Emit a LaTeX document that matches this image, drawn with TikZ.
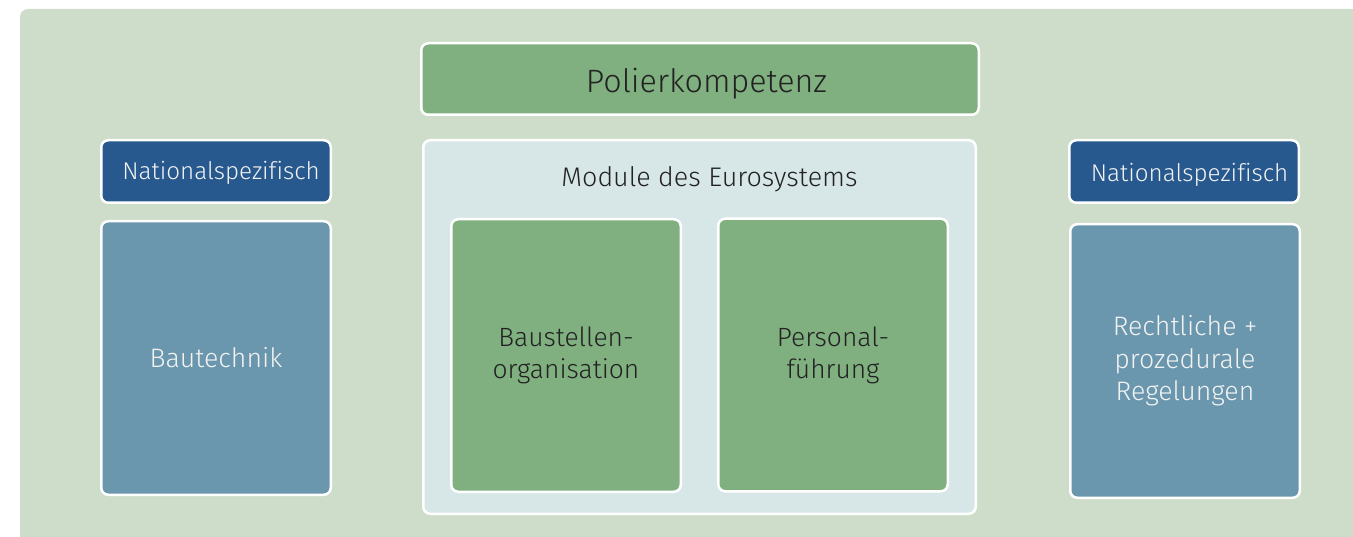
\documentclass[tikz,border=0pt]{standalone}
\usepackage{fontspec}
\setmainfont{Fira Sans}[UprightFont=* Light, Ligatures=NoCommon]
\definecolor{bgc}{HTML}{CDDDCA}
\definecolor{greenc}{HTML}{80AF80}
\definecolor{darkbluec}{HTML}{27598F}
\definecolor{bluec}{HTML}{6A97AD}
\definecolor{modc}{HTML}{D7E7E7}
\definecolor{darktext}{HTML}{222222}
\definecolor{lighttext}{HTML}{F2F2F2}
\begin{document}
\begin{tikzpicture}[x=1pt,y=-1pt,
  box/.style={draw=white, line width=2.5pt, rounded corners=7pt, align=center, inner sep=0pt},
  greenbox/.style={box, fill=greenc, text=darktext},
  natbox/.style={box, fill=darkbluec, minimum width=229.5pt, minimum height=62.5pt},
  bluebox/.style={box, fill=bluec, text=lighttext, minimum width=229.5pt, minimum height=273.5pt,
    font=\fontsize{26.7}{32.5}\selectfont},
  modbox/.style={box, fill=modc},
  innerbox/.style={greenbox, minimum width=229.5pt, minimum height=272.5pt,
    font=\fontsize{26.4}{32}\selectfont},
  plain/.style={inner sep=0pt, align=center, text=darktext, anchor=base},
  nattext/.style={plain, text=lighttext, font=\fontsize{24.2}{28}\selectfont}
]
\useasboundingbox (0,0) rectangle (1353,537);
\clip (0,0) rectangle (1353,537);
\fill[bgc, rounded corners=8pt] (20,9) rectangle (1390,570);

\node[greenbox, minimum width=557.5pt, minimum height=71.5pt] (polier) at (700,79) {};
\node[plain, font=\fontsize{32.3}{36}\selectfont] (poliertext) at (706.5,93) {Polierkompetenz};

\node[natbox] (natL) at (216,171.5) {};
\node[nattext] (natLtext) at (221,180) {Nationalspezifisch};
\node[natbox] (natR) at (1184,171.5) {};
\node[nattext] (natRtext) at (1189.5,182) {Nationalspezifisch};

\node[bluebox] (bautechnik) at (216,358) {Bautechnik};
\node[bluebox] (recht) at (1185,361) {Rechtliche +\\prozedurale\\Regelungen};

\node[modbox, minimum width=552.5pt, minimum height=373.5pt] (module) at (699.5,327) {};
\node[plain, font=\fontsize{26.9}{30}\selectfont] (modtitle) at (709.5,187) {Module des Eurosystems};

\node[innerbox] (baust) at (566,355.5) {Baustellen-\\organisation};
\node[innerbox] (personal) at (833,355) {Personal-\\führung};
\end{tikzpicture}
\end{document}
